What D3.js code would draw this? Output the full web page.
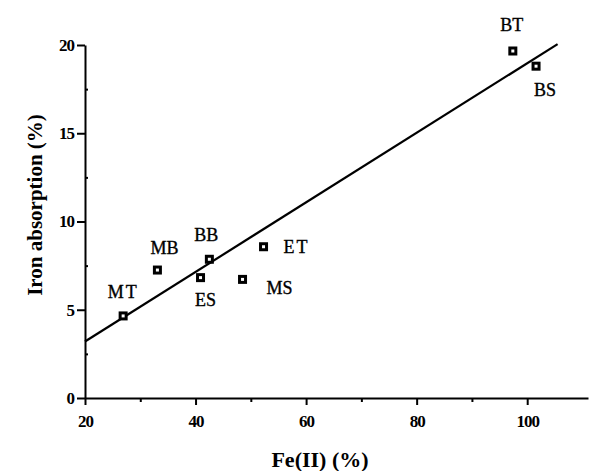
<!DOCTYPE html>
<html>
<head>
<meta charset="utf-8">
<script src="https://cdn.jsdelivr.net/npm/d3@7/dist/d3.min.js"></script>
<style>
  html, body { margin: 0; padding: 0; background: #fff; }
  svg { display: block; }
  text { font-family: "Liberation Serif", "DejaVu Serif", serif; fill: #000; }
</style>
</head>
<body>
<svg id="chart" width="589" height="471"></svg>
<script>
// Diet samples: Fe(II) share vs iron absorption
const samples = ["MT", "MB", "BB", "ES", "MS", "ET", "BT", "BS"];
const feII = [26.9, 33.1, 42.5, 40.9, 48.5, 52.3, 97.4, 101.6];
const absorption = [4.65, 7.25, 7.86, 6.82, 6.72, 8.57, 19.66, 18.8];

// Fitted regression line (end points)
const fitX = [20, 105.5];
const fitY = [3.2, 20.05];

const xTicks = [20, 40, 60, 80, 100];
const xMinorTicks = [30, 50, 70, 90];
const yTicks = [0, 5, 10, 15, 20];
const yMinorTicks = [2.5, 7.5, 12.5, 17.5];

const svg = d3.select("#chart");

const x = d3.scaleLinear().domain([20, 111]).range([85, 588]);
const y = d3.scaleLinear().domain([0, 20]).range([398, 45]);

// axes
const gx = svg.append("g").attr("transform", `translate(0,${y(0)})`);
gx.call(d3.axisBottom(x).tickValues(xMinorTicks).tickSize(4).tickFormat(""))
  .call(g => g.select(".domain").remove())
  .call(g => g.selectAll("line").attr("stroke-width", 2));
gx.append("g").call(d3.axisBottom(x).tickValues(xTicks).tickSize(7).tickPadding(10).tickSizeOuter(0))
  .call(g => g.select(".domain").attr("stroke-width", 2))
  .call(g => g.selectAll("line").attr("stroke-width", 2))
  .call(g => g.selectAll("text")
      .style("font-size", "17px").style("font-weight", "bold")
      .style("letter-spacing", "-1px").attr("fill", "#000"));

const gy = svg.append("g").attr("transform", `translate(${x(20)},0)`);
gy.call(d3.axisRight(y).tickValues(yMinorTicks).tickSize(3).tickFormat(""))
  .call(g => g.select(".domain").remove())
  .call(g => g.selectAll("line").attr("stroke-width", 2));
gy.append("g").call(d3.axisLeft(y).tickValues(yTicks).tickSize(8).tickPadding(3).tickSizeOuter(0))
  .call(g => g.select(".domain").attr("stroke-width", 2))
  .call(g => g.selectAll("line").attr("stroke-width", 2))
  .call(g => g.selectAll("text")
      .style("font-size", "17px").style("font-weight", "bold")
      .style("letter-spacing", "-1px").attr("fill", "#000"));

// regression line
svg.append("path")
  .datum(fitX.map((v, i) => [v, fitY[i]]))
  .attr("fill", "none")
  .attr("stroke", "#000")
  .attr("stroke-width", 2.2)
  .attr("d", d3.line().x(d => x(d[0])).y(d => y(d[1])));

// markers: small filled squares with a light centre
const pts = samples.map((s, i) => ({ s, fx: feII[i], fy: absorption[i] }));
const mk = svg.append("g").selectAll("g").data(pts).join("g")
  .attr("transform", d => `translate(${x(d.fx)},${y(d.fy)})`);
mk.append("rect").attr("x", -4.5).attr("y", -4.5).attr("width", 9).attr("height", 9).attr("fill", "#000");
mk.append("rect").attr("x", -1.5).attr("y", -1.5).attr("width", 3).attr("height", 3).attr("fill", "#fff");

// sample labels, placed around their markers
const labelPlace = {
  MT: [0, -18], MB: [7, -16], BB: [-3, -18], ES: [5, 28],
  MS: [37, 15], ET: [33, 6], BT: [-1, -20], BS: [9, 30]
};
svg.append("g").selectAll("text").data(pts).join("text")
  .attr("x", d => x(d.fx) + labelPlace[d.s][0])
  .attr("y", d => y(d.fy) + labelPlace[d.s][1])
  .attr("text-anchor", "middle")
  .style("font-size", "18px")
  .style("stroke", "#000").style("stroke-width", "0.35px")
  .style("letter-spacing", d => (d.s === "MT" || d.s === "ET") ? "2px" : "0px")
  .text(d => d.s);

// axis titles
svg.append("text")
  .attr("x", 320).attr("y", 467)
  .attr("text-anchor", "middle")
  .style("font-size", "22px").style("font-weight", "bold")
  .text("Fe(II) (%)");

svg.append("text")
  .attr("transform", "translate(42,205) rotate(-90)")
  .attr("text-anchor", "middle")
  .style("font-size", "21px").style("font-weight", "bold")
  .text("Iron absorption (%)");
</script>
</body>
</html>
